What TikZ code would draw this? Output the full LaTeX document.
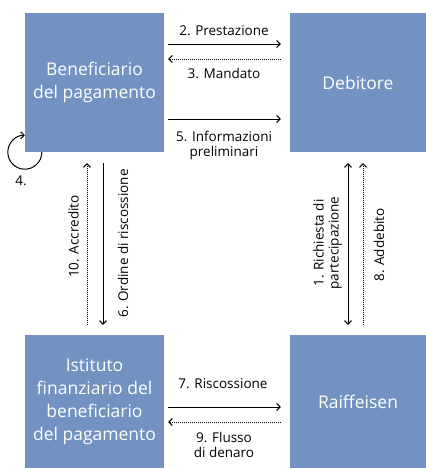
\documentclass[tikz,border=0pt]{standalone}
\usepackage{fontspec}
\setmainfont{Open Sans}
\usetikzlibrary{arrows.meta}
\definecolor{boxblue}{RGB}{114,146,193}
\begin{document}
\begin{tikzpicture}[x=1pt,y=-1pt,
  mytip/.tip={Straight Barb[length=3.5pt,width=7pt]},
  box/.style={fill=boxblue, text=white, inner sep=0pt, align=center,
    font=\fontsize{17.5}{23}\selectfont},
  lbl/.style={font=\fontsize{13.5}{15}\selectfont, align=center, inner sep=0pt},
  flow/.style={line width=1pt, -mytip},
  dots/.style={flow, dash pattern=on 1pt off 1pt},
  both/.style={line width=1pt, mytip-mytip}]
\useasboundingbox (0,0) rectangle (426,469);
\node[box, minimum width=139pt, minimum height=139pt] (ben) at (94.5,82.5) {Beneficiario\\del pagamento};
\node[box, minimum width=136pt, minimum height=139pt] (deb) at (358,82.5) {Debitore};
\node[box, minimum width=139pt, minimum height=133pt] (ist) at (94.5,401.5) {Istituto\\finanziario del\\beneficiario\\del pagamento};
\node[box, minimum width=136pt, minimum height=133pt] (raf) at (358,401.5) {Raiffeisen};
% top horizontal
\draw[flow] ([xshift=4pt,yshift=38.5pt]ben.east) -- ([xshift=-9pt,yshift=38.5pt]deb.west);
\draw[dots] ([xshift=-9pt,yshift=23.5pt]deb.west) -- ([xshift=4pt,yshift=23.5pt]ben.east);
\draw[flow] ([xshift=4pt,yshift=-36.5pt]ben.east) -- ([xshift=-9pt,yshift=-36.5pt]deb.west);
% bottom horizontal
\draw[flow] ([xshift=4pt,yshift=-5.5pt]ist.east) -- ([xshift=-9pt,yshift=-5.5pt]raf.west);
\draw[dots] ([xshift=-9pt,yshift=-20.5pt]raf.west) -- ([xshift=4pt,yshift=-20.5pt]ist.east);
% left vertical
\draw[dots] ([xshift=-7.5pt,yshift=10pt]ist.north) -- ([xshift=-7.5pt,yshift=-11pt]ben.south);
\draw[flow] ([xshift=8.5pt,yshift=-11pt]ben.south) -- ([xshift=8.5pt,yshift=10pt]ist.north);
% right vertical
\draw[both] ([xshift=-10pt,yshift=-11pt]deb.south) -- ([xshift=-10pt,yshift=10pt]raf.north);
\draw[dots] ([xshift=5pt,yshift=10pt]raf.north) -- ([xshift=5pt,yshift=-11pt]deb.south);
% loop
\draw[flow] ([xshift=17pt]ben.south west) arc[start angle=0,end angle=-270,radius=17pt];
% labels
\node[lbl, anchor=base] (l2) at (224,35) {2. Prestazione};
\node[lbl, anchor=base] (l3) at (224,78) {3. Mandato};
\node[lbl, anchor=base] (l5) at (224,156) {5. Informazioni\\preliminari};
\node[lbl, anchor=base] (l7) at (223,388) {7. Riscossione};
\node[lbl, anchor=base] (l9) at (224,457) {9. Flusso\\di denaro};
\node[lbl, anchor=base] (l4) at (21,185) {4.};
\node[lbl, rotate=90] (l10) at (73.5,236.5) {10. Accredito};
\node[lbl, rotate=90] (l6) at (123,243.5) {6. Ordine di riscossione};
\node[lbl, rotate=90] (l1) at (327.5,243) {1. Richiesta di\\partecipazione};
\node[lbl, rotate=90] (l8) at (379,245) {8. Addebito};
\end{tikzpicture}
\end{document}
